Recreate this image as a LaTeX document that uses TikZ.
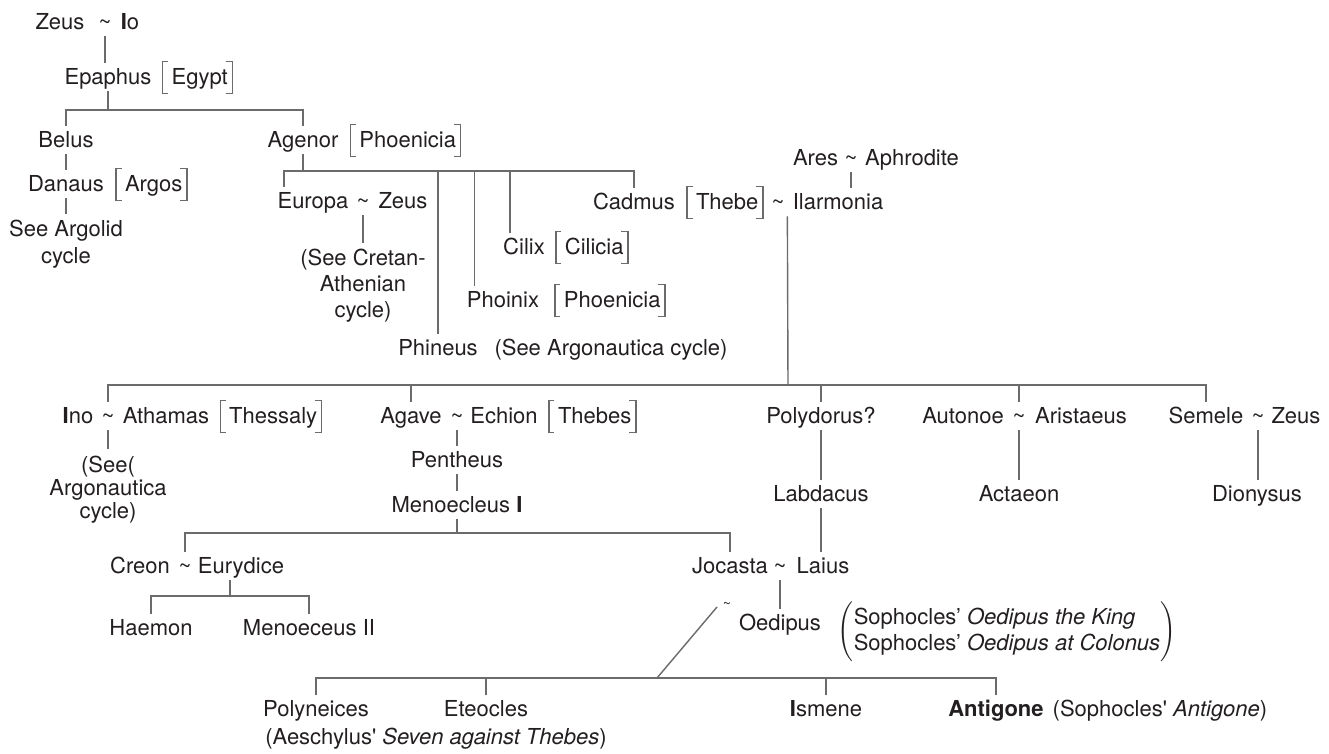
\documentclass[tikz,border=0pt]{standalone}
\usepackage{fontspec}
\setmainfont{TeX Gyre Heros}
\usetikzlibrary{calc}
\definecolor{ink}{HTML}{231F20}
\definecolor{lncol}{HTML}{6B6B6B}

% tall thin square brackets round a place name
\newcommand\brk[1]{%
  \textcolor{lncol}{\rlap{\rule[-0.42em]{0.06em}{1.5em}}\rlap{\rule[-0.42em]{0.28em}{0.06em}}\rule[1.02em]{0.28em}{0.06em}}%
  \hspace{0.16em}#1\hspace{0.18em}%
  \textcolor{lncol}{\llap{\rule[-0.42em]{0.28em}{0.06em}}\llap{\rule[1.02em]{0.28em}{0.06em}}\rule[-0.42em]{0.06em}{1.5em}}}
\newcommand\tld{\textasciitilde}

\begin{document}
\begin{tikzpicture}[x=0.5pt, y=-0.5pt,
    nm/.style={inner xsep=0pt, inner ysep=3pt, text height=7.9pt, text depth=0pt,
               text=ink, font=\fontsize{11}{13}\selectfont},
    note/.style={align=center, inner xsep=0pt, inner ysep=3pt, text=ink,
               font=\fontsize{11}{13}\selectfont},
    ln/.style={draw=lncol, line width=0.7pt}]
    \path[use as bounding box, fill=white] (0,0) rectangle (1329,754);

    % Zeus, Epaphus and his sons
    \node[nm] (zeus) at (60,22) {Zeus};
    \node[nm] (tzi) at (105,22) {\tld};
    \node[nm] (io) at (130,22) {\textbf{I}o};
    \node[nm] (epaphus) at (108,77) {Epaphus};
    \node[nm] (egypt) at (197.5,77) {\brk{Egypt}};
    \node[nm] (belus) at (66,140) {Belus};
    \node[nm] (agenor) at (303,140) {Agenor};
    \node[nm] (phoen1) at (405.5,140) {\brk{Phoenicia}};
    \node[nm] (danaus) at (66,184) {Danaus};
    \node[nm] (argos) at (151.5,184) {\brk{Argos}};
    \node[note, font=\fontsize{11}{13.5}\selectfont] (argolid) at (66,244.5) {See Argolid\\cycle};

    % children of Agenor
    \node[nm] (europa) at (313,201) {Europa};
    \node[nm] (tez) at (363,201) {\tld};
    \node[nm] (zeus2) at (403,201) {Zeus};
    \node[note] (cretan) at (363,286) {(See Cretan-\\Athenian\\cycle)};
    \node[nm] (cilix) at (524,247) {Cilix};
    \node[nm] (cilicia) at (592,247) {\brk{Cilicia}};
    \node[nm] (phoinix) at (503,300) {Phoinix};
    \node[nm] (phoen2) at (610,300) {\brk{Phoenicia}};
    \node[nm] (phineus) at (438,348) {Phineus};
    \node[nm] (argocycle) at (611,348) {(See Argonautica cycle)};
    \node[nm] (cadmus) at (634,202) {Cadmus};
    \node[nm] (thebe) at (725,202) {\brk{Thebe}};
    \node[nm] (tch) at (778,202) {\tld};
    \node[nm] (harmonia) at (838,202) {Ilarmonia};
    \node[nm] (ares) at (815.5,158) {Ares};
    \node[nm] (taa) at (851,158) {\tld};
    \node[nm] (aphro) at (912,158) {Aphrodite};

    % children of Cadmus
    \node[nm] (ino) at (78,416) {\textbf{I}no};
    \node[nm] (tia) at (108,416) {\tld};
    \node[nm] (athamas) at (166,416) {Athamas};
    \node[nm] (thessaly) at (271,416) {\brk{Thessaly}};
    \node[nm] (agave) at (411,416) {Agave};
    \node[nm] (tae) at (457,416) {\tld};
    \node[nm] (echion) at (504,416) {Echion};
    \node[nm] (thebes) at (592.5,416) {\brk{Thebes}};
    \node[nm] (polydorus) at (821,416) {Polydorus?};
    \node[nm] (autonoe) at (963,416) {Autonoe};
    \node[nm] (tau) at (1019,416) {\tld};
    \node[nm] (aristaeus) at (1081,416) {Aristaeus};
    \node[nm] (semele) at (1206,416) {Semele};
    \node[nm] (tsz) at (1258,416) {\tld};
    \node[nm] (zeus3) at (1296,416) {Zeus};

    \node[note, font=\fontsize{11}{11.5}\selectfont] (seeargo) at (108,489.5) {(See(\\Argonautica\\cycle)};
    \node[nm] (pentheus) at (457,460) {Pentheus};
    \node[nm] (menoecleus) at (457,505) {Menoecleus \textbf{I}};
    \node[nm] (labdacus) at (821,494) {Labdacus};
    \node[nm] (actaeon) at (1019,494) {Actaeon};
    \node[nm] (dionysus) at (1257,494) {Dionysus};

    % Creon and Jocasta
    \node[nm] (creon) at (140,566) {Creon};
    \node[nm] (tce) at (185,566) {\tld};
    \node[nm] (eurydice) at (241,566) {Eurydice};
    \node[nm] (jocasta) at (730,566) {Jocasta};
    \node[nm] (tjl) at (780,566) {\tld};
    \node[nm] (laius) at (823,566) {Laius};
    \node[nm] (haemon) at (151,628) {Haemon};
    \node[nm] (menoeceus) at (309,628) {Menoeceus II};
    \node[nm] (oedipus) at (780,623) {Oedipus};
    \node[nm, font=\scriptsize] (toj) at (727,601) {\tld};
    \node[inner sep=0pt, text=ink, font=\fontsize{11}{13}\selectfont] (sophocles) at (1007,632)
        {$\Biggl(\begin{tabular}{@{}l@{}}Sophocles’ \textit{Oedipus the King}\\Sophocles’ \textit{Oedipus at Colonus}\end{tabular}\Biggr)$};

    % children of Oedipus
    \node[nm] (polyneices) at (316,709) {Polyneices};
    \node[nm] (eteocles) at (486,709) {Eteocles};
    \node[nm] (ismene) at (826,709) {\textbf{I}smene};
    \node[nm] (antigone) at (996,709) {\textbf{Antigone}};
    \node[nm] (antisrc) at (1160,709) {(Sophocles\textquotesingle{} \textit{Antigone})};
    \node[nm] (aeschylus) at (436,737) {(Aeschylus\textquotesingle{} \textit{Seven against Thebes})};

    % junctions on the bars
    \coordinate (jep) at (108,110);
    \coordinate (jag) at (303,171);
    \coordinate (jch) at (788,385);
    \coordinate (jme) at (457,533);
    \coordinate (jcr) at (230,596);
    \coordinate (joe) at (657,678);

    % Draw the lines
    \draw[ln] (tzi.south) -- (tzi.south |- epaphus.north);
    \draw[ln] (epaphus.south) -- (jep);
    \draw[ln] (belus.north) |- (jep) -| (agenor.north);
    \draw[ln] (belus.south) -- (danaus.north);
    \draw[ln] (danaus.south) -- (argolid.north);

    \draw[ln] (agenor.south) -- (jag);
    \draw[ln] ($(europa.north west)+(7,0)$) |- (jag) -| (cadmus.north);
    \draw[ln] (phineus.north) -- (phineus.north |- jag);
    \path ($(phoinix.north west)+(8,0)$) coordinate (dphoi);
    \draw[ln] (dphoi) -- (dphoi |- jag);
    \path ($(cilix.north west)+(7,0)$) coordinate (dcil);
    \draw[ln] (dcil) -- (dcil |- jag);
    \draw[ln] (tez.south) -- (tez.south |- cretan.north);
    \draw[ln] (taa.south) -- (taa.south |- harmonia.north);

    \draw[ln] ($(harmonia.south west)+(-5,0)$) -- (jch);
    \draw[ln] (tia.north) |- (jch) -| (semele.north);
    \draw[ln] (agave.north) -- (agave.north |- jch);
    \draw[ln] (polydorus.north) -- (polydorus.north |- jch);
    \draw[ln] (tau.north) -- (tau.north |- jch);

    \draw[ln] (tia.south) -- (seeargo.north);
    \draw[ln] (tae.south) -- (pentheus.north);
    \draw[ln] (pentheus.south) -- (menoecleus.north);
    \draw[ln] (polydorus.south) -- (labdacus.north);
    \draw[ln] (tau.south) -- (tau.south |- actaeon.north);
    \draw[ln] (tsz.south) -- (tsz.south |- dionysus.north);

    \draw[ln] (menoecleus.south) -- (jme);
    \draw[ln] (tce.north) |- (jme) -| (jocasta.north);
    \draw[ln] (labdacus.south) -- (labdacus.south |- laius.north);
    \draw[ln] ($(eurydice.south)+(-11,0)$) -- (jcr);
    \draw[ln] (haemon.north) |- (jcr) -| (menoeceus.north);
    \draw[ln] (tjl.south) -- (tjl.south |- oedipus.north);

    \draw[ln] ($(toj)+(-10,6)$) -- (joe);
    \draw[ln] (polyneices.north) |- (joe) -| (antigone.north);
    \draw[ln] (eteocles.north) -- (eteocles.north |- joe);
    \draw[ln] (ismene.north) -- (ismene.north |- joe);
\end{tikzpicture}
\end{document}
